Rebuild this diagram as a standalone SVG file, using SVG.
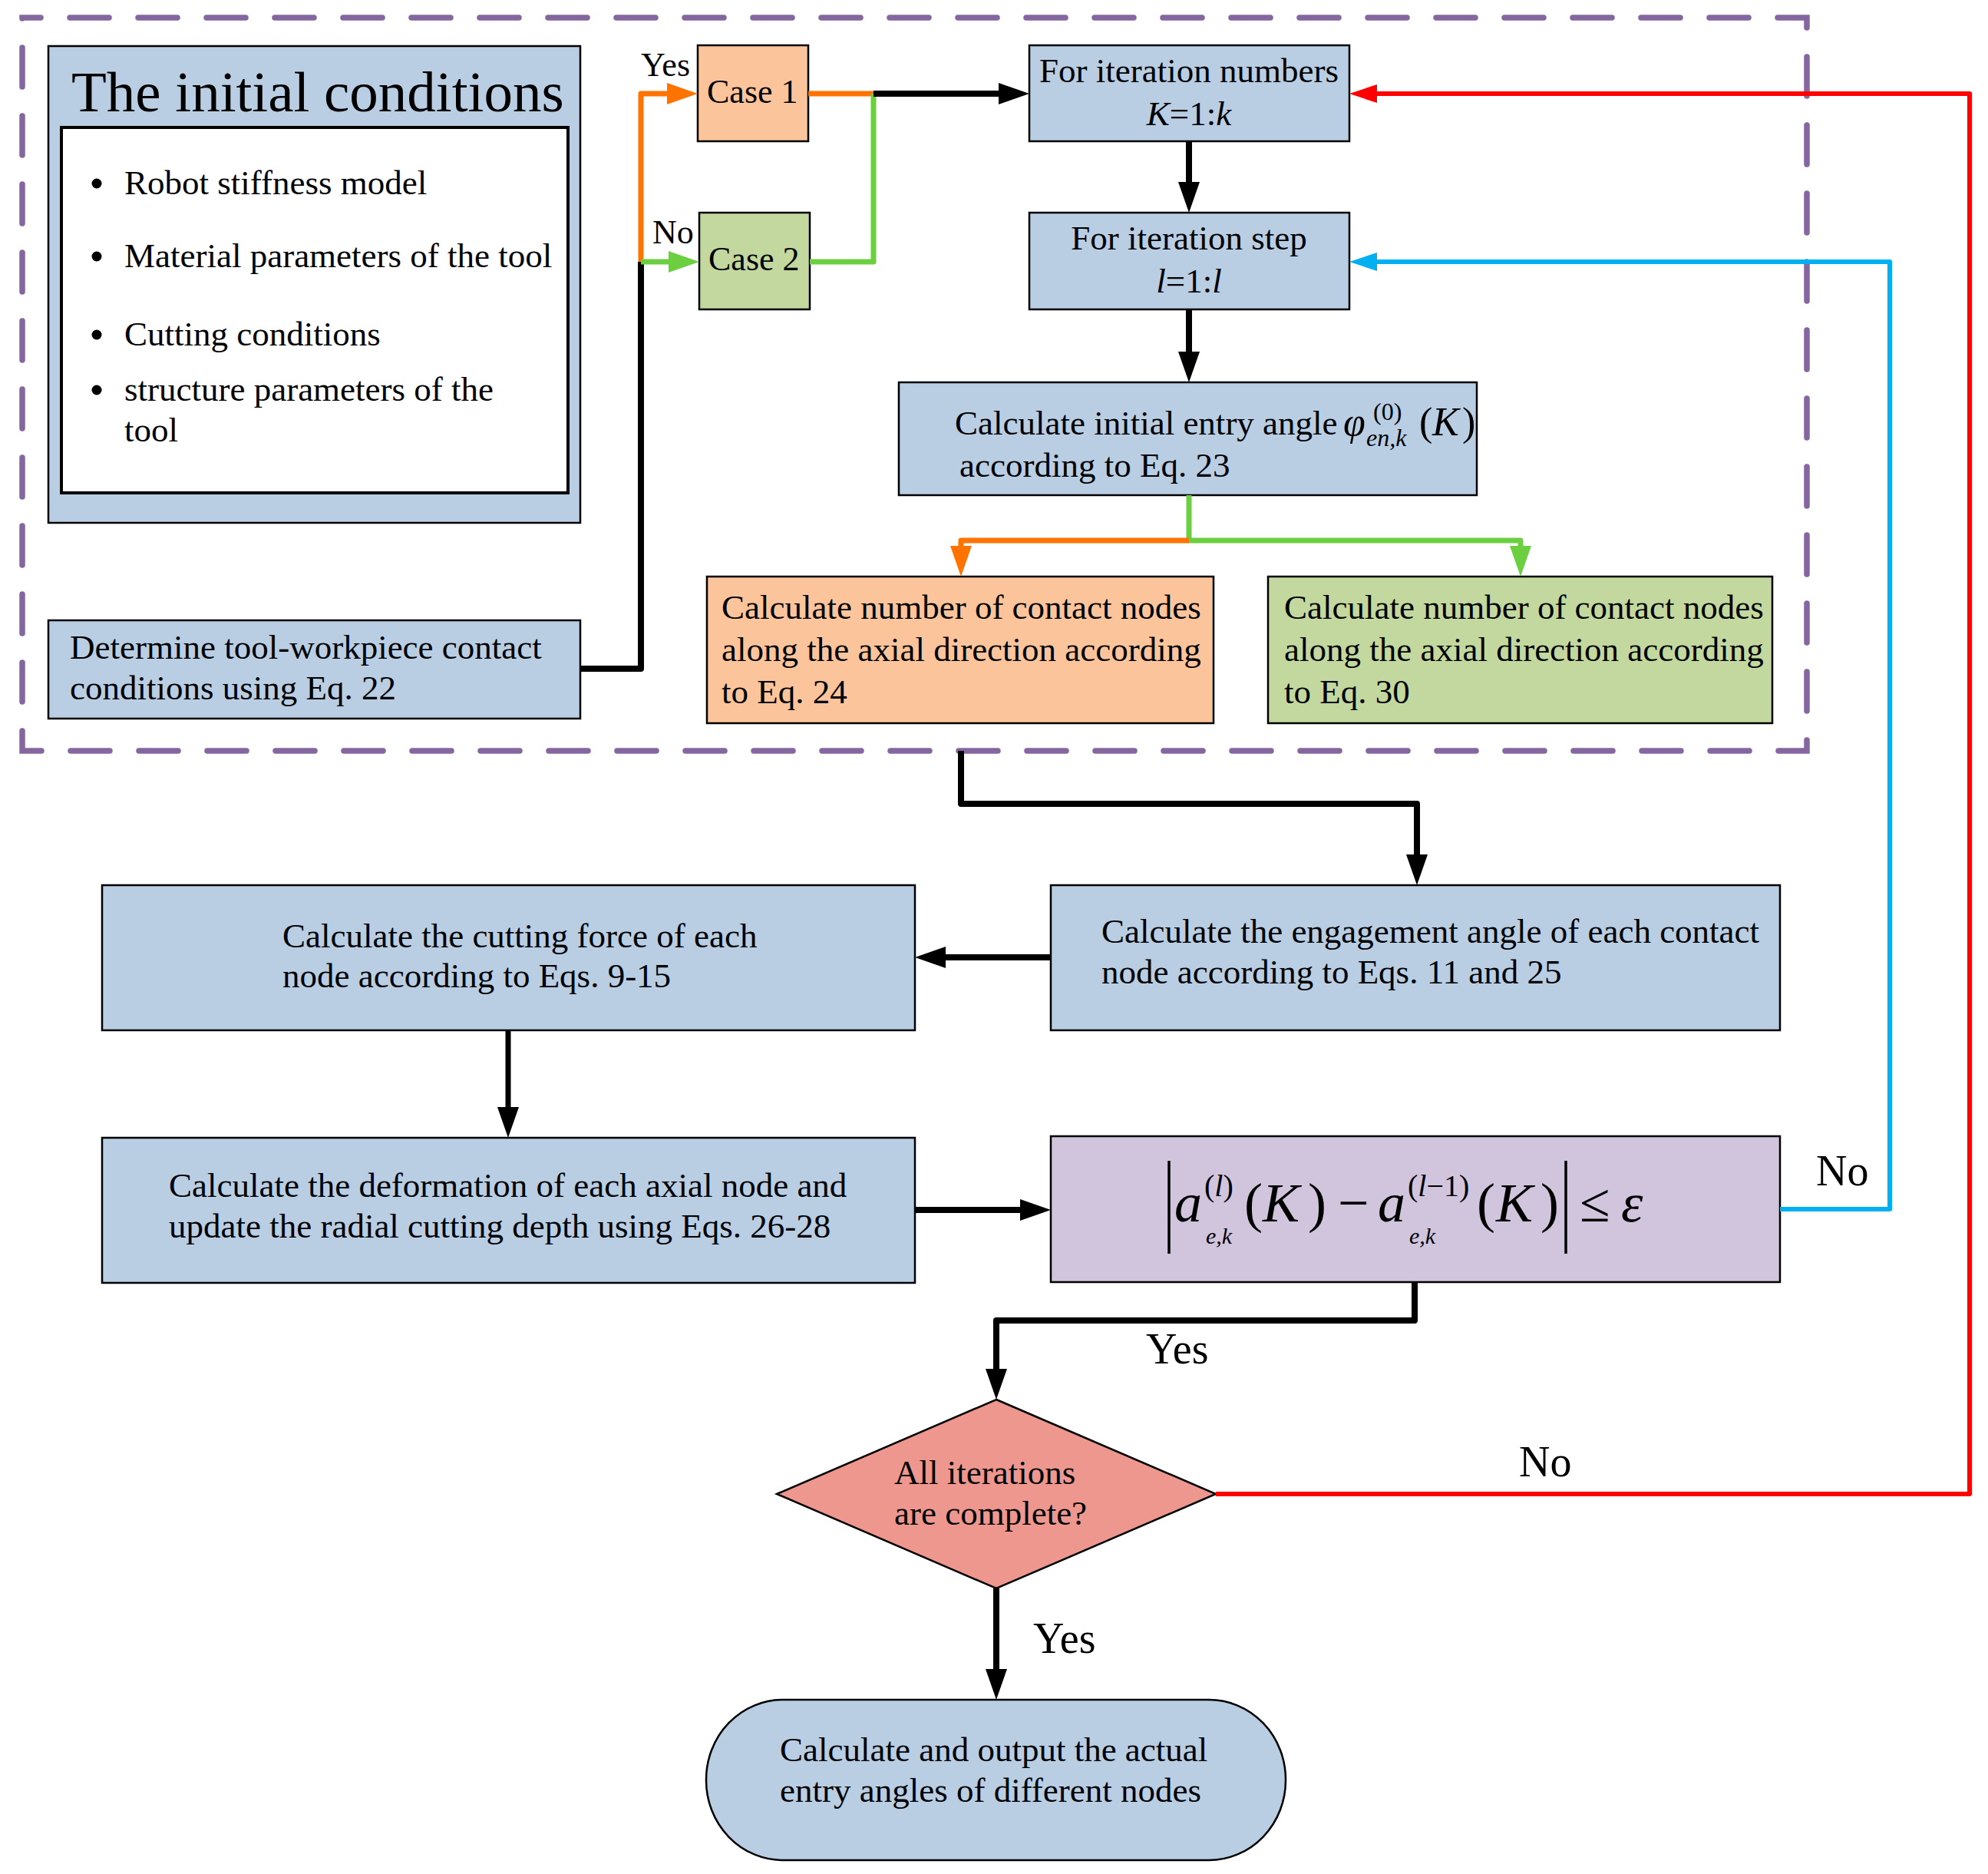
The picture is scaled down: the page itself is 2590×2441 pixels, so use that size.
<svg xmlns="http://www.w3.org/2000/svg" width="2590" height="2441" viewBox="0 0 2590 2441">
<style>
text{font-family:"Liberation Serif","Times New Roman",serif;font-size:45px;fill:#000}
.t75{font-size:75px}
.lbl{font-size:56px}
.sm{font-size:44px}
.it{font-style:italic}
.f72{font-size:72px}
.box{fill:#B9CDE3;stroke:#000;stroke-width:2.5}
.org{fill:#FBC49A;stroke:#000;stroke-width:2.5}
.grn{fill:#C3D89F;stroke:#000;stroke-width:2.5}
.pur{fill:#D1C4DD;stroke:#000;stroke-width:2.5}
.dia{fill:#EE978E;stroke:#000;stroke-width:2.5}
.c{fill:none;stroke-linejoin:round;stroke-linecap:butt}
.k{stroke:#000;stroke-width:8}
.o{stroke:#FF7300;stroke-width:7}
.g{stroke:#6CCF40;stroke-width:7}
.r{stroke:#FF0000;stroke-width:6}
.b{stroke:#00B0F0;stroke-width:6}
</style>
<defs>
<marker id="mk" markerUnits="userSpaceOnUse" markerWidth="40" markerHeight="28" refX="20" refY="14" orient="auto"><path d="M0,0 L40,14 L0,28 z" fill="#000"/></marker>
<marker id="mo" markerUnits="userSpaceOnUse" markerWidth="40" markerHeight="28" refX="20" refY="14" orient="auto"><path d="M0,0 L40,14 L0,28 z" fill="#FF7300"/></marker>
<marker id="mg" markerUnits="userSpaceOnUse" markerWidth="40" markerHeight="28" refX="20" refY="14" orient="auto"><path d="M0,0 L40,14 L0,28 z" fill="#6CCF40"/></marker>
<marker id="mr" markerUnits="userSpaceOnUse" markerWidth="36" markerHeight="24" refX="18" refY="12" orient="auto"><path d="M0,0 L36,12 L0,24 z" fill="#FF0000"/></marker>
<marker id="mb" markerUnits="userSpaceOnUse" markerWidth="36" markerHeight="24" refX="18" refY="12" orient="auto"><path d="M0,0 L36,12 L0,24 z" fill="#00B0F0"/></marker>
</defs>
<rect width="2590" height="2441" fill="#fff"/>

<g id="frame">
<path d="M29,23 H2354 V978 H29 Z" fill="none" stroke="#8567A0" stroke-width="7.5" stroke-dasharray="51 38" stroke-dashoffset="27" stroke-linecap="round"/>
</g>

<g id="initial">
<rect class="box" x="63" y="60" width="693" height="621"/>
<text class="t75" x="93" y="145">The initial conditions</text>
<rect x="80" y="166" width="660" height="476" fill="#fff" stroke="#000" stroke-width="4"/>
<circle cx="126" cy="239" r="6.5"/><circle cx="126" cy="334" r="6.5"/><circle cx="126" cy="436" r="6.5"/><circle cx="126" cy="508" r="6.5"/>
<text x="162" y="253">Robot stiffness model</text>
<text x="162" y="348">Material parameters of the tool</text>
<text x="162" y="450">Cutting conditions</text>
<text x="162" y="522">structure parameters of the</text>
<text x="162" y="575">tool</text>
</g>

<g id="determine">
<rect class="box" x="63" y="808" width="693" height="128"/>
<text x="91" y="858">Determine tool-workpiece contact</text>
<text x="91" y="911">conditions using Eq. 22</text>
</g>

<g id="case1">
<rect class="org" x="909" y="59" width="144" height="125"/>
<text class="sm" x="921" y="134">Case 1</text>
</g>
<g id="case2">
<rect class="grn" x="911" y="277" width="144" height="126"/>
<text class="sm" x="923" y="352">Case 2</text>
</g>

<g id="iterK">
<rect class="box" x="1341" y="59" width="417" height="125"/>
<text x="1549" y="107" text-anchor="middle">For iteration numbers</text>
<text x="1549" y="163" text-anchor="middle"><tspan class="it">K</tspan>=1:<tspan class="it">k</tspan></text>
</g>

<g id="iterL">
<rect class="box" x="1341" y="277" width="417" height="126"/>
<text x="1549" y="325" text-anchor="middle">For iteration step</text>
<text x="1549" y="381" text-anchor="middle"><tspan class="it">l</tspan>=1:<tspan class="it">l</tspan></text>
</g>

<g id="angle">
<rect class="box" x="1171" y="498" width="753" height="147"/>
<text x="1244" y="566">Calculate initial entry angle</text>
<text class="it" x="1750" y="567" style="font-size:52px">φ</text>
<text x="1789" y="547" style="font-size:32px">(0)</text>
<text class="it" x="1780" y="581" style="font-size:32px">en,k</text>
<text x="1849" y="567" style="font-size:52px">(</text>
<text class="it" x="1866" y="567" style="font-size:52px">K</text>
<text x="1905" y="567" style="font-size:52px">)</text>
<text x="1250" y="621">according to Eq. 23</text>
</g>

<g id="nodes24">
<rect class="org" x="921" y="751" width="660" height="191"/>
<text x="940" y="806">Calculate number of contact nodes</text>
<text x="940" y="861">along the axial direction according</text>
<text x="940" y="916">to Eq. 24</text>
</g>

<g id="nodes30">
<rect class="grn" x="1652" y="751" width="657" height="191"/>
<text x="1673" y="806">Calculate number of contact nodes</text>
<text x="1673" y="861">along the axial direction according</text>
<text x="1673" y="916">to Eq. 30</text>
</g>

<g id="engage">
<rect class="box" x="1369" y="1153" width="950" height="189"/>
<text x="1435" y="1228">Calculate the engagement angle of each contact</text>
<text x="1435" y="1281">node according to Eqs. 11 and 25</text>
</g>

<g id="force">
<rect class="box" x="133" y="1153" width="1059" height="189"/>
<text x="368" y="1234">Calculate the cutting force of each</text>
<text x="368" y="1286">node according to Eqs. 9-15</text>
</g>

<g id="deform">
<rect class="box" x="133" y="1482" width="1059" height="189"/>
<text x="220" y="1559">Calculate the deformation of each axial node and</text>
<text x="220" y="1612">update the radial cutting depth using Eqs. 26-28</text>
</g>

<g id="criterion">
<rect class="pur" x="1369" y="1480" width="950" height="190"/>
<line x1="1523" y1="1512" x2="1523" y2="1633" stroke="#000" stroke-width="3.5"/>
<text class="it f72" x="1530" y="1591">a</text>
<text x="1569" y="1558" style="font-size:40px">(<tspan class="it">l</tspan>)</text>
<text class="it" x="1571" y="1620" style="font-size:30px">e,k</text>
<text class="f72" x="1621" y="1591">(</text>
<text class="it f72" x="1645" y="1591">K</text>
<text class="f72" x="1704" y="1591">)</text>
<text class="f72" x="1743" y="1591">−</text>
<text class="it f72" x="1795" y="1591">a</text>
<text x="1834" y="1558" style="font-size:40px">(<tspan class="it">l</tspan>−1)</text>
<text class="it" x="1836" y="1620" style="font-size:30px">e,k</text>
<text class="f72" x="1924" y="1591">(</text>
<text class="it f72" x="1949" y="1591">K</text>
<text class="f72" x="2007" y="1591">)</text>
<line x1="2040" y1="1512" x2="2040" y2="1633" stroke="#000" stroke-width="3.5"/>
<text class="f72" x="2058" y="1591">≤</text>
<text class="it f72" x="2112" y="1591">ε</text>
</g>

<g id="decision">
<polygon class="dia" points="1298,1823 1584,1946 1298,2069 1012,1946"/>
<text x="1165" y="1933">All iterations</text>
<text x="1165" y="1986">are complete?</text>
</g>

<g id="output">
<rect class="box" x="920" y="2214" width="755" height="209" rx="100" ry="104"/>
<text x="1016" y="2294">Calculate and output the actual</text>
<text x="1016" y="2347">entry angles of different nodes</text>
</g>

<g id="connectors">
<path class="c k" d="M756,871 H835 V341"/>
<path class="c o" d="M835,341 V122 H889" marker-end="url(#mo)"/>
<path class="c g" d="M835,341 H891" marker-end="url(#mg)"/>
<path class="c o" d="M1053,122 H1138"/>
<path class="c g" d="M1055,341 H1138 V122"/>
<path class="c k" d="M1138,122 H1321" marker-end="url(#mk)"/>
<path class="c k" d="M1549,184 V257" marker-end="url(#mk)"/>
<path class="c k" d="M1549,403 V478" marker-end="url(#mk)"/>
<path class="c g" d="M1549,645 V704 H1981 V731" marker-end="url(#mg)"/>
<path class="c o" d="M1549,704 H1252 V731" marker-end="url(#mo)"/>
<path class="c k" d="M1252,978 V1047 H1846 V1133" marker-end="url(#mk)"/>
<path class="c k" d="M1369,1247 H1212" marker-end="url(#mk)"/>
<path class="c k" style="stroke-width:7" d="M662,1342 V1462" marker-end="url(#mk)"/>
<path class="c k" d="M1192,1576 H1349" marker-end="url(#mk)"/>
<path class="c k" d="M1843,1670 V1720 H1298 V1803" marker-end="url(#mk)"/>
<path class="c k" d="M1298,2069 V2194" marker-end="url(#mk)"/>
<path class="c r" d="M1584,1946 H2566 V122 H1776" marker-end="url(#mr)"/>
<path class="c b" d="M2319,1575 H2462 V341 H1776" marker-end="url(#mb)"/>
</g>

<g id="labels">
<text class="sm" x="835" y="99">Yes</text>
<text class="sm" x="850" y="317">No</text>
<text class="lbl" x="1493" y="1776">Yes</text>
<text class="lbl" x="2366" y="1544">No</text>
<text class="lbl" x="1979" y="1923">No</text>
<text class="lbl" x="1346" y="2153">Yes</text>
</g>
</svg>
